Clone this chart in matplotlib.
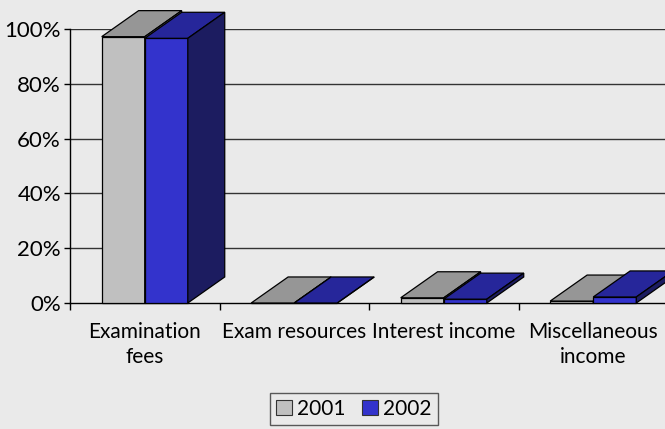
import numpy as np
import matplotlib.pyplot as plt
from matplotlib.patches import Polygon, Patch

categories = ['Examination\nfees', 'Exam resources', 'Interest income', 'Miscellaneous\nincome']
years = ['2001', '2002']
values_2001 = [97.2, 0.0, 1.9, 0.7]
values_2002 = [96.6, 0.0, 1.4, 2.2]
y_ticks = [0, 20, 40, 60, 80, 100]

BG = '#EAEAEA'
colors = {
    '2001': ('#C0C0C0', '#969696', '#6E6E6E'),   # front, top, side
    '2002': ('#3333CC', '#26269A', '#1C1C60'),
}

plt.rcParams['font.family'] = ['Lato', 'DejaVu Sans']

fig = plt.figure(figsize=(6.65, 4.29), dpi=100, facecolor=BG)
ax = fig.add_axes([70 / 665, 126 / 429, 598 / 665, 274 / 429])
ax.set_facecolor(BG)
ax.set_xlim(0, 4)
ax.set_ylim(0, 100)

bar_w = 0.288
dx = 0.247      # depth offset in x units
dy = 9.5        # depth offset in y units


def bar3d(x0, h, front, top, side):
    x1 = x0 + bar_w
    kw = dict(closed=True, edgecolor='black', linewidth=0.9, clip_on=False, zorder=3)
    ax.add_patch(Polygon([(x0, 0), (x1, 0), (x1, h), (x0, h)], facecolor=front, **kw))
    ax.add_patch(Polygon([(x0, h), (x1, h), (x1 + dx, h + dy), (x0 + dx, h + dy)],
                         facecolor=top, **kw))
    ax.add_patch(Polygon([(x1, 0), (x1 + dx, dy), (x1 + dx, h + dy), (x1, h)],
                         facecolor=side, **kw))


for i in range(len(categories)):
    c = i + 0.5
    bar3d(c - bar_w, values_2001[i], *colors['2001'])
    bar3d(c, values_2002[i], *colors['2002'])

# gridlines
for t in y_ticks[1:]:
    ax.axhline(t, color='#333333', linewidth=1.0, zorder=1)

for s in ['top', 'right']:
    ax.spines[s].set_visible(False)
ax.spines['left'].set_linewidth(1)
ax.spines['bottom'].set_linewidth(1)

ax.set_yticks(y_ticks)
ax.set_yticklabels([f'{t}%' for t in y_ticks])
ax.tick_params(axis='y', length=4, width=1, pad=2.5, labelsize=16)

ax.set_xticks([0.5, 1.5, 2.5, 3.5])
ax.set_xticklabels(categories, linespacing=1.3)
ax.set_xticks([0, 1, 2, 3, 4], minor=True)
ax.tick_params(axis='x', which='major', length=0, pad=14, labelsize=15)
ax.tick_params(axis='x', which='minor', length=5, width=1)

handles = [Patch(facecolor=colors[y][0], edgecolor='#333333', linewidth=0.8) for y in years]
leg = fig.legend(handles, years, loc='lower center', bbox_to_anchor=(354 / 665, -0.015),
                 ncol=2, frameon=True, fontsize=15, handlelength=0.75, handleheight=0.75,
                 handletextpad=0.25, columnspacing=0.8, borderpad=0.3, fancybox=False)
leg.get_frame().set_facecolor(BG)
leg.get_frame().set_edgecolor('#333333')
leg.get_frame().set_linewidth(1)

fig.savefig('out.png', dpi=100, facecolor=BG)
